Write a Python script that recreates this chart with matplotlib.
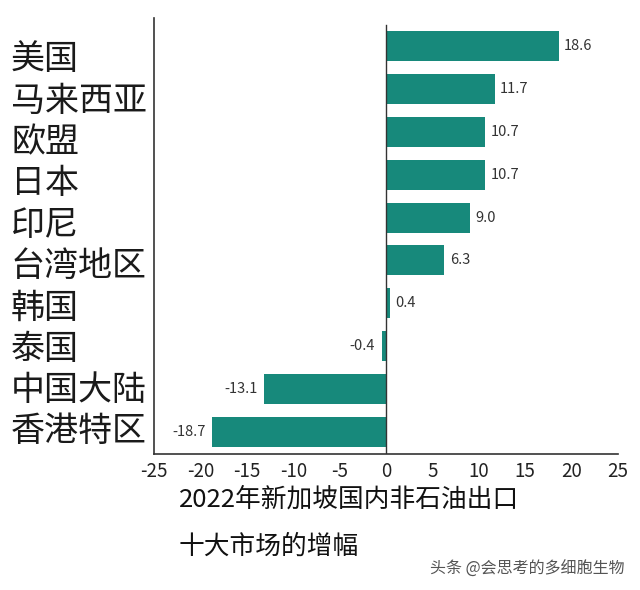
import matplotlib
matplotlib.use("Agg")
import matplotlib.pyplot as plt

plt.rcParams['font.family'] = ['Noto Sans CJK SC', 'DejaVu Sans']

markets = ["美国", "马来西亚", "欧盟", "日本", "印尼", "台湾地区", "韩国", "泰国", "中国大陆", "香港特区"]
growth = [18.6, 11.7, 10.7, 10.7, 9.0, 6.3, 0.4, -0.4, -13.1, -18.7]
xticks = [-25, -20, -15, -10, -5, 0, 5, 10, 15, 20, 25]
title_lines = ["2022年新加坡国内非石油出口", "十大市场的增幅"]
watermark = "头条 @会思考的多细胞生物"

bar_color = "#17897b"

fig = plt.figure(figsize=(6.4, 5.9), dpi=100)
ax = fig.add_axes([154 / 640, 1 - 454 / 590, 464 / 640, 436 / 590])

pos = list(range(len(markets)))
ax.barh(pos, growth, height=0.7, color=bar_color, zorder=2)

ax.set_xlim(-25, 25)
ax.set_ylim(len(markets) - 0.49, -0.65)
ax.axvline(0, ymin=0, ymax=0.985, color="#333333", lw=1.0, zorder=3)

ax.set_xticks(xticks)
ax.set_xticklabels([str(t) for t in xticks], fontsize=13.5, color="#222222")
ax.tick_params(axis="x", length=0, pad=5)
ax.set_yticks([])
for s in ["top", "right"]:
    ax.spines[s].set_visible(False)
for s in ["left", "bottom"]:
    ax.spines[s].set_color("#333333")
    ax.spines[s].set_linewidth(1.2)

# category labels: a column on the left, slightly tighter than the bars
for i, name in enumerate(markets):
    fig.text(11 / 640, 1 - (60 + 41.3 * i) / 590, name, ha="left", va="center",
             fontsize=24.5, color="#1a1a1a")

# value labels
for p, v in zip(pos, growth):
    if v >= 0:
        ax.annotate(f"{v:.1f}", (v, p), xytext=(4, 0), textcoords="offset points",
                    ha="left", va="center", fontsize=10.5, color="#333333")
    else:
        ax.annotate(f"{v:.1f}", (v, p), xytext=(-5, 0), textcoords="offset points",
                    ha="right", va="center", fontsize=10.5, color="#333333")

fig.text(179 / 640, 1 - 500 / 590, title_lines[0], ha="left", va="center",
         fontsize=18.5, color="#111111")
fig.text(179 / 640, 1 - 547 / 590, title_lines[1], ha="left", va="center",
         fontsize=18.5, color="#111111")
fig.text(625 / 640, 1 - 569 / 590, watermark, ha="right", va="center",
         fontsize=11.5, color="#555555")

fig.savefig("out.png", dpi=100)
